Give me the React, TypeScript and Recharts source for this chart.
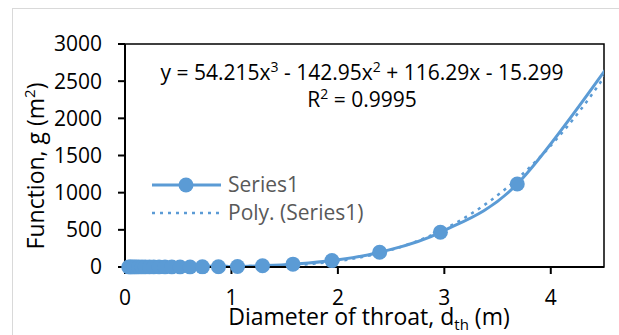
import React from 'react';
import {
  ComposedChart,
  Line,
  XAxis,
  YAxis,
  ReferenceArea,
  Legend,
  Customized,
} from 'recharts';

// Throat diameter (m) and the corresponding function g (m²)
const diameter = [
  0.035, 0.05, 0.065, 0.085, 0.105, 0.13, 0.16, 0.19, 0.23, 0.27, 0.32, 0.376,
  0.44, 0.517, 0.611, 0.727, 0.878, 1.057, 1.292, 1.578, 1.944, 2.392, 2.963,
  3.685, 4.62,
];
const gFunction = [
  0, 0, 0, 0, 0, 0, 0, 0.01, 0.02, 0.03, 0.06, 0.12, 0.23, 0.43, 0.85, 1.7, 3.6,
  7.5, 17, 38, 86, 198, 467, 1117, 2860,
];

const xTicks = [0, 1, 2, 3, 4];
const yTicks = [0, 500, 1000, 1500, 2000, 2500, 3000];
const X_MAX = 4.5;
const Y_MAX = 3000;

// Cubic trendline coefficients: x³, x², x, constant
const trendCoefficients = [54.215, -142.95, 116.29, -15.299];
const rSquared = '0.9995';

const legendItems = ['Series1', 'Poly. (Series1)'];

const BLUE = '#5B9BD5';
const FONT = "'Open Sans', sans-serif";
const MARKER_R = 7.5;

const seriesData = diameter.map((d, i) => ({ d, g: gFunction[i] }));
// markers are only drawn for points inside the x-axis range
const markerData = seriesData.filter((p) => p.d <= X_MAX);

const evalTrend = (x: number) =>
  trendCoefficients.reduce((acc, c) => acc * x + c, 0);

const TREND_STEPS = 90;
const trendData = Array.from({ length: TREND_STEPS + 1 }, (_, i) => {
  const x0 = diameter[0];
  const x1 = diameter[diameter.length - 1];
  const d = x0 + ((x1 - x0) * i) / TREND_STEPS;
  return { d, trend: evalTrend(d) };
});

// Spreadsheet-style smoothed line: cubic Bézier segments with
// Catmull-Rom control points (neighbour difference / 6).
const smoothCurve = (context: any) => {
  let pts: number[][] = [];
  return {
    areaStart() {},
    areaEnd() {},
    lineStart() {
      pts = [];
    },
    point(x: number, y: number) {
      pts.push([+x, +y]);
    },
    lineEnd() {
      const n = pts.length;
      if (!n) return;
      context.moveTo(pts[0][0], pts[0][1]);
      for (let i = 0; i < n - 1; i++) {
        const p0 = pts[Math.max(i - 1, 0)];
        const p1 = pts[i];
        const p2 = pts[i + 1];
        const p3 = pts[Math.min(i + 2, n - 1)];
        context.bezierCurveTo(
          p1[0] + (p2[0] - p0[0]) / 6,
          p1[1] + (p2[1] - p0[1]) / 6,
          p2[0] - (p3[0] - p1[0]) / 6,
          p2[1] - (p3[1] - p1[1]) / 6,
          p2[0],
          p2[1]
        );
      }
    },
  };
};

const fmtTerm = (c: number, first: boolean) => {
  const abs = Math.abs(c).toString();
  if (first) return (c < 0 ? '-' : '') + abs;
  return (c < 0 ? ' - ' : ' + ') + abs;
};

const Annotations = () => {
  const [a, b, c, k] = trendCoefficients;
  return (
    <g fontFamily={FONT} fill="#000">
      <g fontSize={21}>
        <text x={362} y={80} textAnchor="middle">
          <tspan>{'y = ' + fmtTerm(a, true) + 'x'}</tspan>
          <tspan dy={-8} fontSize={14}>3</tspan>
          <tspan dy={8}>{fmtTerm(b, false) + 'x'}</tspan>
          <tspan dy={-8} fontSize={14}>2</tspan>
          <tspan dy={8}>{fmtTerm(c, false) + 'x' + fmtTerm(k, false)}</tspan>
        </text>
        <text x={362} y={107} textAnchor="middle">
          <tspan>R</tspan>
          <tspan dy={-8} fontSize={14}>2</tspan>
          <tspan dy={8}>{' = ' + rSquared}</tspan>
        </text>
      </g>
      <g fontSize={23}>
        <text x={369} y={325} textAnchor="middle">
          <tspan>Diameter of throat, d</tspan>
          <tspan dy={5} fontSize={15}>th</tspan>
          <tspan dy={-5}> (m)</tspan>
        </text>
        <text x={44} y={166} textAnchor="middle" transform="rotate(-90 44 166)">
          <tspan>Function, g (m</tspan>
          <tspan dy={-9} fontSize={15}>2</tspan>
          <tspan dy={9}>)</tspan>
        </text>
      </g>
    </g>
  );
};

const LegendBox = () => (
  <svg width={240} height={60} style={{ display: 'block', overflow: 'visible' }}>
    <g fontFamily={FONT} fontSize={21} fill="#595959">
      <line x1={4} y1={15} x2={73} y2={15} stroke={BLUE} strokeWidth={3} />
      <circle cx={38} cy={15} r={MARKER_R} fill={BLUE} />
      <text x={80} y={22}>{legendItems[0]}</text>
      <line
        x1={4}
        y1={43}
        x2={73}
        y2={43}
        stroke={BLUE}
        strokeWidth={2.5}
        strokeDasharray="3 5"
      />
      <text x={80} y={50}>{legendItems[1]}</text>
    </g>
  </svg>
);

export default function App() {
  return (
    <div
      style={{
        position: 'absolute',
        left: 0,
        top: 0,
        width: 619,
        height: 335,
        overflow: 'hidden',
        background: '#fff',
      }}
    >
      <div
        style={{
          position: 'absolute',
          left: 12,
          top: 8,
          width: 700,
          height: 400,
          border: '1.5px solid #d9d9d9',
        }}
      />
      <ComposedChart
        width={619}
        height={335}
        margin={{ top: 44, right: 15, bottom: 0, left: 0 }}
        style={{ fontFamily: FONT }}
      >
        <XAxis
          type="number"
          dataKey="d"
          domain={[0, X_MAX]}
          ticks={xTicks}
          allowDataOverflow
          height={68}
          stroke="#000"
          strokeWidth={2}
          tickSize={7}
          tickMargin={16}
          tick={{ fill: '#000', fontSize: 21, fontFamily: FONT }}
        />
        <YAxis
          type="number"
          domain={[0, Y_MAX]}
          ticks={yTicks}
          allowDataOverflow
          width={125}
          stroke="#000"
          strokeWidth={2}
          tickSize={7}
          tickMargin={16}
          tick={{ fill: '#000', fontSize: 21, fontFamily: FONT }}
        />
        <ReferenceArea
          x1={0}
          x2={X_MAX}
          y1={0}
          y2={Y_MAX}
          fill="none"
          stroke="#000"
          strokeWidth={1.5}
          ifOverflow="visible"
        />
        <Line
          data={seriesData}
          dataKey="g"
          type={smoothCurve as any}
          stroke={BLUE}
          strokeWidth={3}
          dot={false}
          activeDot={false}
          isAnimationActive={false}
          legendType="none"
        />
        <Line
          data={trendData}
          dataKey="trend"
          type="linear"
          stroke={BLUE}
          strokeWidth={2.5}
          strokeDasharray="3 5"
          dot={false}
          activeDot={false}
          isAnimationActive={false}
          legendType="none"
        />
        <Line
          data={markerData}
          dataKey="g"
          stroke="none"
          strokeWidth={0}
          dot={{ r: MARKER_R, fill: BLUE, stroke: BLUE, strokeWidth: 0, clipDot: false }}
          activeDot={false}
          isAnimationActive={false}
          legendType="none"
        />
        <Legend
          layout="vertical"
          align="center"
          verticalAlign="middle"
          content={() => <LegendBox />}
          wrapperStyle={{ position: 'absolute', left: 148, top: 170, width: 240, height: 60 }}
        />
        <Customized component={Annotations} />
      </ComposedChart>
    </div>
  );
}
